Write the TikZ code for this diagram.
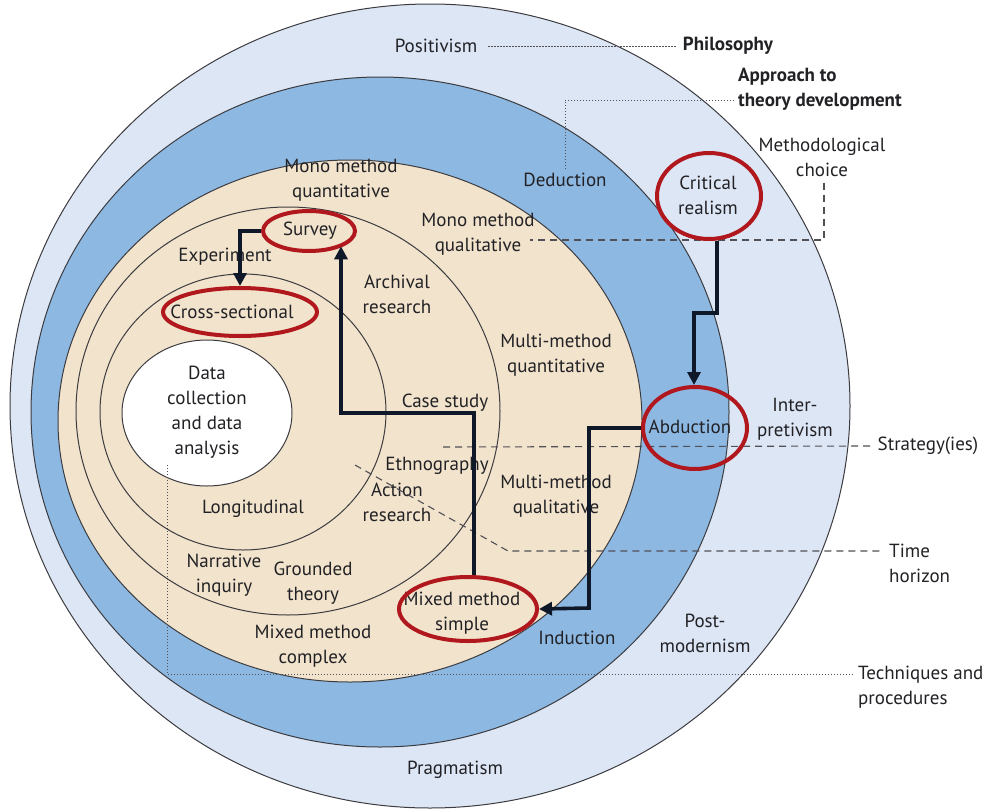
\documentclass[tikz,border=0pt]{standalone}
\usepackage{fontspec}
\setmainfont{PT Sans}
\usetikzlibrary{arrows.meta,shapes.geometric,calc}
\definecolor{outerc}{RGB}{221,230,245}
\definecolor{bluec}{RGB}{141,184,226}
\definecolor{tanc}{RGB}{242,227,204}
\definecolor{redc}{RGB}{176,24,30}
\definecolor{arrc}{RGB}{14,24,40}
\definecolor{txtc}{RGB}{34,34,38}
\definecolor{ringc}{RGB}{60,60,64}
\definecolor{dashc}{RGB}{80,80,86}
\begin{document}
\begin{tikzpicture}[x=1pt,y=-1pt,
  ring/.style={draw=ringc, line width=1pt},
  lbl/.style={font=\fontsize{19}{25}\selectfont, text=txtc, align=center, inner sep=0pt},
  blbl/.style={lbl, font=\fontsize{19}{25}\selectfont\bfseries},
  redring/.style={ellipse, draw=redc, line width=4pt, inner sep=0pt},
  arr/.style={draw=arrc, line width=3.6pt, -{Triangle[length=13pt,width=13pt]}},
  dashline/.style={draw=dashc, line width=1.1pt, dash pattern=on 7pt off 5pt},
  dotline/.style={draw=dashc, line width=1pt, dash pattern=on 1.2pt off 1.8pt}]
\useasboundingbox (0,0) rectangle (985,811);
\fill[white] (0,0) rectangle (985,811);
% rings
\draw[ring, fill=outerc] (430,406) ellipse [x radius=420pt, y radius=402pt];
\draw[ring, fill=bluec] (380,412) ellipse [x radius=349pt, y radius=335pt];
\draw[ring, fill=tanc] (350,421) ellipse [x radius=292pt, y radius=261pt];
\draw[ring] (288,411) ellipse [x radius=212pt, y radius=204pt];
\draw[ring] (243,412) ellipse [x radius=143pt, y radius=138pt];
\draw[ring, fill=white] (207,413) ellipse [x radius=85pt, y radius=73pt];

% labels
\node[lbl] (positivism) at (436,46) {Positivism};
\node[blbl] (philosophy) at (728,46) {Philosophy};
\node[blbl, align=left, anchor=west] (approach) at (738,89) {Approach to\\theory development};
\node[lbl] (methchoice) at (822,157) {Methodological\\choice};
\node[lbl] (deduction) at (565,180) {Deduction};
\node[lbl] (crtext) at (708,195) {Critical\\realism};
\node[lbl] (monoquant) at (341,180) {Mono method\\quantitative};
\node[lbl] (monoqual) at (478,234) {Mono method\\qualitative};
\node[lbl] (svtext) at (310,231) {Survey};
\node[lbl] (experiment) at (225,257) {Experiment};
\node[lbl] (archival) at (397,294) {Archival\\research};
\node[lbl] (cstext) at (232,312) {Cross-sectional};
\node[lbl] (multiquant) at (556,355) {Multi-method\\quantitative};
\node[lbl] (data) at (207,412) {Data\\collection\\and data\\analysis};
\node[lbl] (casestudy) at (445,403) {Case study};
\node[lbl] (abtext) at (690,427) {Abduction};
\node[lbl] (interp) at (795,419) {Inter-\\pretivism};
\node[lbl] (strategy) at (928,446) {Strategy(ies)};
\node[lbl] (ethno) at (437,466) {Ethnography};
\node[lbl] (multiqual) at (556,496) {Multi-method\\qualitative};
\node[lbl] (longit) at (253,509) {Longitudinal};
\node[lbl] (action) at (397,502) {Action\\research};
\node[lbl, align=left, anchor=west] (timeh) at (889,563) {Time\\horizon};
\node[lbl] (narrative) at (224,575) {Narrative\\inquiry};
\node[lbl] (grounded) at (313,583) {Grounded\\theory};
\node[lbl] (mmstext) at (462,613) {Mixed method\\simple};
\node[lbl] (induction) at (577,638) {Induction};
\node[lbl] (postmod) at (705,633) {Post-\\modernism};
\node[lbl] (mmcomplex) at (313,646) {Mixed method\\complex};
\node[lbl, align=left, anchor=west] (techniques) at (858,687) {Techniques and\\procedures};
\node[lbl] (pragmatism) at (455,770) {Pragmatism};

% guide lines
\coordinate (apcorner) at (565,100);
\coordinate (mqend) at (530,240);
\coordinate (stend) at (443,447);
\coordinate (thstart) at (355,465);
\coordinate (thbend) at (508,551);
\coordinate (tpstart) at (167,465);
\coordinate (tpcorner) at (167,674);
\draw[dotline, shorten <=11pt, shorten >=6pt] (positivism) -- (philosophy);
\draw[dotline] ($(approach.west)+(-4,11)$) -- (apcorner) -- ($(deduction.north)+(0,-3)$);
\draw[dashline] ($(methchoice.south)+(2,6)$) |- (mqend);
\draw[dashline] (stend) -- ($(strategy.west)+(-7,0)$);
\draw[dashline] (thstart) -- (thbend) -- ($(timeh.west)+(-7,-12)$);
\draw[dotline] (tpstart) -- (tpcorner) -- ($(techniques.west)+(-4,-13)$);

% red rings
\node[redring, minimum width=104pt, minimum height=86pt] (cr) at (709,196) {};
\node[redring, minimum width=104pt, minimum height=82pt] (ab) at (695,428) {};
\node[redring, minimum width=138pt, minimum height=64pt] (mms) at (468,609) {};
\node[redring, minimum width=92pt, minimum height=40pt] (sv) at (309,231) {};
\node[redring, minimum width=154pt, minimum height=48pt] (cs) at (240,312) {};

% arrows
\coordinate (j1) at (694,313);
\coordinate (j2) at (589,608);
\coordinate (j3) at (341,413);
\draw[arr] ([xshift=8pt]cr.south) |- (j1) -- (j1 |- ab.north);
\draw[arr] (ab.west) -| (j2) -- (mms.east);
\draw[arr] ([xshift=6pt]mms.north) |- (j3) -- (j3 |- sv.-24);
\draw[arr] (sv.west) -| (cs.north);
\end{tikzpicture}
\end{document}
